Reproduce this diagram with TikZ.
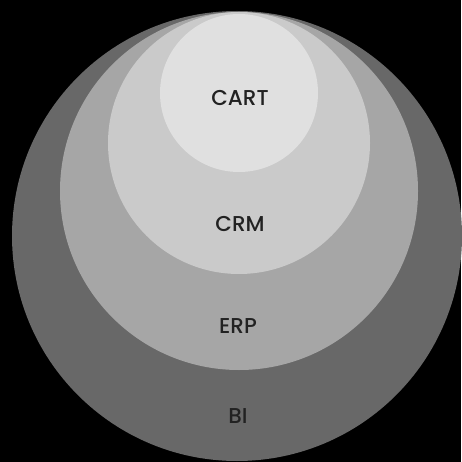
\documentclass[tikz,border=0pt]{standalone}
\usepackage{fontspec}
\setmainfont{Poppins Medium}
\definecolor{ringbi}{HTML}{686868}
\definecolor{ringerp}{HTML}{A6A6A6}
\definecolor{ringcrm}{HTML}{CACACA}
\definecolor{ringcart}{HTML}{E0E0E0}
\definecolor{labeltext}{HTML}{222222}
\begin{document}
\begin{tikzpicture}[x=1pt,y=-1pt,
  layer/.style={circle,inner sep=0pt,draw=none},
  tag/.style={text=labeltext,font=\fontsize{21.5}{21.5}\selectfont,inner sep=0pt}]
  \fill[black] (0,0) rectangle (461,462);
  \useasboundingbox (0,0) rectangle (461,462);
  % nested circles, all touching near the top
  \node[layer,fill=ringbi,minimum size=450] (bi) at (237,236) {};
  \node[layer,fill=ringerp,minimum size=358] (erp) at (239,191) {};
  \node[layer,fill=ringcrm,minimum size=262] (crm) at (239,143) {};
  \node[layer,fill=ringcart,minimum size=158] (cart) at (239,93) {};
  % labels
  \node[tag] (lcart) at (240,98) {CART};
  \node[tag] (lcrm) at (240,224) {CRM};
  \node[tag] (lerp) at (238,326) {ERP};
  \node[tag] (lbi) at (238,416) {BI};
\end{tikzpicture}
\end{document}
